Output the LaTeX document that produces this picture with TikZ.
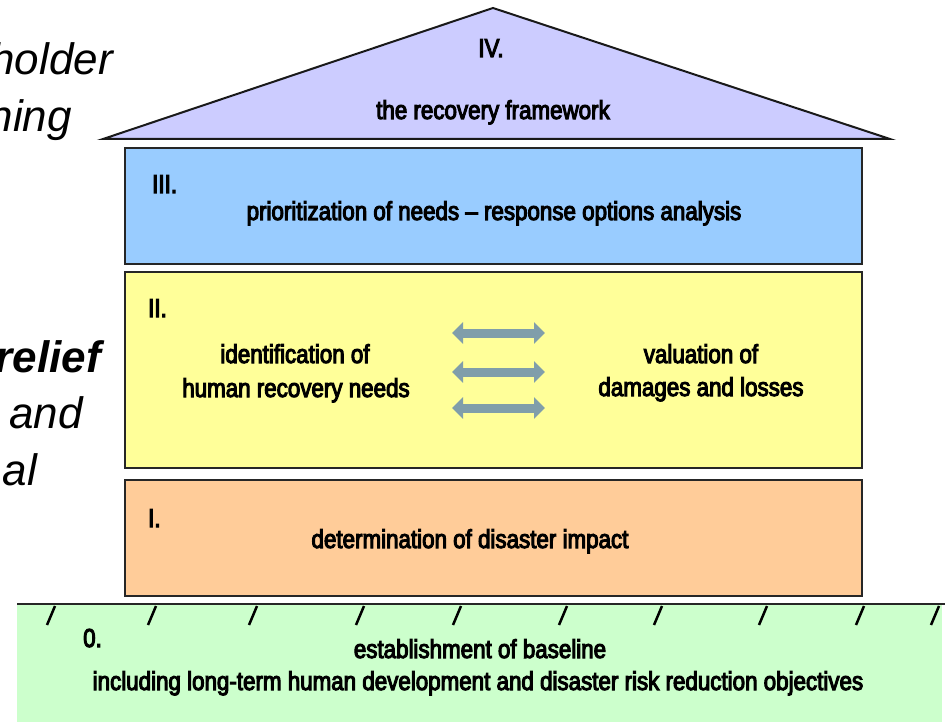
\documentclass[tikz,border=0pt]{standalone}
\usepackage{fontspec}
\setmainfont{Liberation Sans}
\newfontfamily\cond[FakeStretch=0.86,FakeBold=4]{Liberation Sans}
\usetikzlibrary{arrows.meta}
\definecolor{roofc}{RGB}{204,204,255}
\definecolor{bluec}{RGB}{153,204,255}
\definecolor{yellc}{RGB}{255,255,153}
\definecolor{orac}{RGB}{255,204,153}
\definecolor{greenc}{RGB}{204,255,204}
\definecolor{arrc}{RGB}{128,158,170}
\tikzset{
  layer/.style={draw=black!85, line width=2.5pt, minimum width=737pt, inner sep=0pt},
  lbl/.style={font=\cond\fontsize{26}{30}\selectfont, inner sep=0pt, anchor=base},
  num/.style={font=\cond\fontsize{26}{30}\selectfont, inner sep=0pt, anchor=base west},
  side/.style={font=\fontsize{44}{50}\selectfont\itshape, inner sep=0pt, anchor=base east},
  dbl/.style={draw=arrc, line width=9pt, {Triangle[length=11pt,width=21pt]}-{Triangle[length=11pt,width=21pt]}},
  tick/.style={draw=black, line width=2.5pt}
}
\begin{document}
\begin{tikzpicture}[x=1pt,y=-1pt]
\useasboundingbox (0,0) rectangle (945,722);
% side text fragments
\node[side] (s1) at (113,75) {holder};
\node[side] (s2) at (72,132) {ning};
\node[side, font=\fontsize{44}{50}\selectfont\itshape\bfseries] (s3) at (101,372) {relief};
\node[side] (s4) at (83,428) {and};
\node[side] (s5) at (37,485) {al};
% ground
\fill[greenc] (17,604) rectangle (942,722);
\coordinate (gl) at (17,604);
\coordinate (gr) at (945,604);
\draw[line width=2.5pt, black!85] (gl) -- (gr);
\foreach \x in {51,152,253,360,457,563,658,763,860,935}
  \draw[tick] (\x-4,625) -- (\x+4,606);
\node[num] (g0) at (83,647) {0.};
\node[lbl] (g1) at (480,658) {establishment of baseline};
\node[lbl] (g2) at (478,690) {including long-term human development and disaster risk reduction objectives};
% roof
\coordinate (rl) at (103,139);
\coordinate (rr) at (890,139);
\coordinate (ra) at (493,8);
\filldraw[fill=roofc, draw=black!90, line width=2pt, line join=miter] (rl) -- (ra) -- (rr) -- cycle;
\node[lbl] (r1) at (491,57) {IV.};
\node[lbl] (r2) at (493,119) {the recovery framework};
% layer III
\node[layer, fill=bluec, minimum height=116pt] (b3) at (493.5,206) {};
\node[num] (n3) at (152,193) {III.};
\node[lbl] (t3) at (494,220) {prioritization of needs – response options analysis};
% layer II
\node[layer, fill=yellc, minimum height=196pt] (b2) at (493.5,370) {};
\node[num] (n2) at (148,317) {II.};
\node[lbl] (t2a) at (295,363) {identification of};
\node[lbl] (t2b) at (296,397) {human recovery needs};
\node[lbl] (t2c) at (701,363) {valuation of};
\node[lbl] (t2d) at (701,396) {damages and losses};
\coordinate (a1l) at (452,333); \coordinate (a1r) at (545,333);
\coordinate (a2l) at (452,372); \coordinate (a2r) at (545,372);
\coordinate (a3l) at (452,408); \coordinate (a3r) at (545,408);
\draw[dbl] (a1l) -- (a1r);
\draw[dbl] (a2l) -- (a2r);
\draw[dbl] (a3l) -- (a3r);
% layer I
\node[layer, fill=orac, minimum height=116pt] (b1) at (493.5,538) {};
\node[num] (n1) at (148,527) {I.};
\node[lbl] (t1) at (470,548) {determination of disaster impact};
\end{tikzpicture}
\end{document}
